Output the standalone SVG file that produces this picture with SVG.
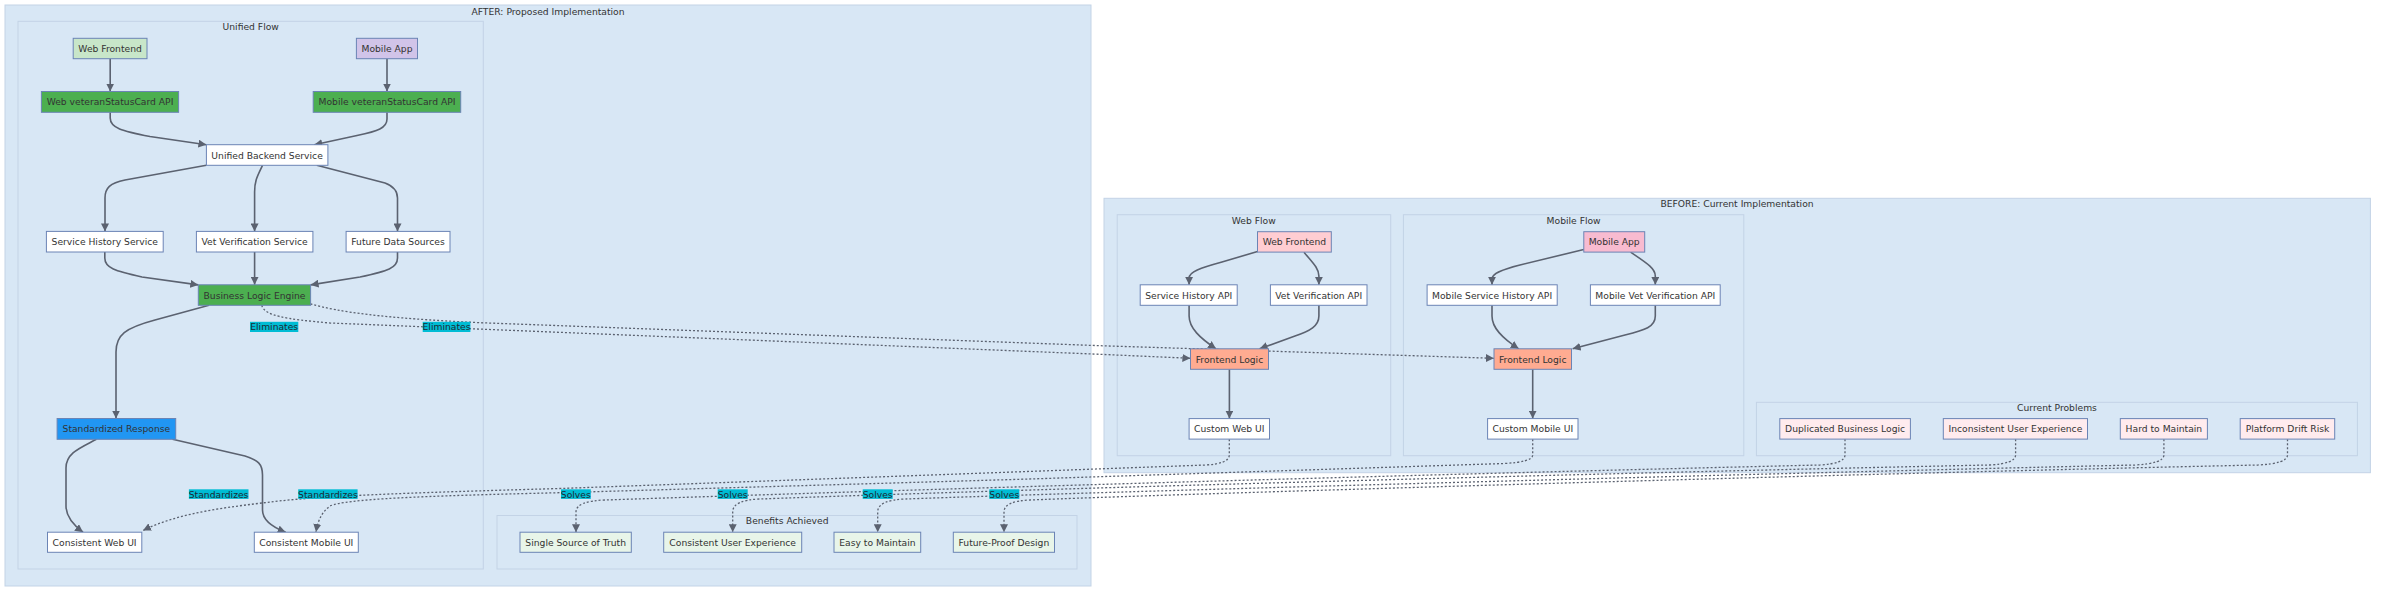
<svg xmlns="http://www.w3.org/2000/svg" width="2384" height="593" viewBox="0 0 2384 593">
<defs>
<style>
.bg{fill:#ffffff}
.cl{fill:#d8e7f5;stroke:#c3d3e6;stroke-width:1}
.t{font-family:"DejaVu Sans",Verdana,sans-serif;font-size:9.2px;fill:#333;text-anchor:middle;dominant-baseline:central}
.n{stroke:#6b84b5;stroke-width:1}
.w{fill:#ffffff}
.gl{fill:#c8e6c9}
.pu{fill:#d1c4e9}
.gr{fill:#4caf50}
.bl{fill:#2196f3}
.be{fill:#e8f5e9}
.rd{fill:#ffcdd2}
.pk{fill:#f8bbd0}
.sa{fill:#ffab91}
.pr{fill:#ffebee}
.e{fill:none;stroke:#5b6270;stroke-width:1.6;marker-end:url(#ah)}
.d{fill:none;stroke:#5b6270;stroke-width:1.3;stroke-dasharray:2 2;marker-end:url(#ah)}
.lb{fill:#00bcd4}
.lt{font-family:"DejaVu Sans",Verdana,sans-serif;font-size:9.2px;fill:#1d2a33;text-anchor:middle;dominant-baseline:central}
</style>
<marker id="ah" viewBox="0 0 10 10" refX="10" refY="5" markerUnits="userSpaceOnUse" markerWidth="8" markerHeight="8" orient="auto">
<path d="M0,0 L10,5 L0,10 z" fill="#5b6270"/>
</marker>
</defs>
<rect class="bg" x="0" y="0" width="2384" height="593"/>

<g id="clusters">
<g id="after"><rect class="cl" x="5" y="5" width="1086" height="581"/><text class="t" x="548" y="11">AFTER: Proposed Implementation</text></g>
<g id="unified-flow"><rect class="cl" x="18" y="21.3" width="465.3" height="547.7"/><text class="t" x="250.7" y="26.8">Unified Flow</text></g>
<g id="benefits"><rect class="cl" x="497" y="515.5" width="580" height="53.5"/><text class="t" x="787.2" y="520.8">Benefits Achieved</text></g>
<g id="before"><rect class="cl" x="1104" y="198.3" width="1266.4" height="274.4"/><text class="t" x="1737" y="203.8">BEFORE: Current Implementation</text></g>
<g id="web-flow"><rect class="cl" x="1117.2" y="214.7" width="273.5" height="241"/><text class="t" x="1253.8" y="220.7">Web Flow</text></g>
<g id="mobile-flow"><rect class="cl" x="1403.4" y="214.7" width="340.4" height="241"/><text class="t" x="1573.6" y="220.7">Mobile Flow</text></g>
<g id="current-problems"><rect class="cl" x="1756.4" y="402.3" width="601" height="53.4"/><text class="t" x="2057" y="407.8">Current Problems</text></g>
</g>

<g id="connectors">
<path class="e" d="M110.2,58.7 L110.2,91.5"/>
<path class="e" d="M387,58.7 L387,91.5"/>
<path class="e" d="M110.2,112.3 L110.2,118 C110.2,128 122,131 150,136.5 L206.4,144.8"/>
<path class="e" d="M387,112.3 L387,119 C387,128 378,131 357,135.5 L314.3,144.8"/>
<path class="e" d="M206.4,165.3 L125,180 C110,183 105,188 105,198 L105,231.4"/>
<path class="e" d="M262.5,165.3 C258,175 254.6,180 254.6,192 L254.6,231.4"/>
<path class="e" d="M316.8,165.3 L385,183 C393,186 397.5,190 397.5,198 L397.5,231.4"/>
<path class="e" d="M104.8,252 L104.8,258 C104.8,268 115,271 142,277 L198.3,284.9"/>
<path class="e" d="M254.6,252 L254.6,284.8"/>
<path class="e" d="M397.5,252 L397.5,258 C397.5,268 388,271 360,277 L310.6,284.9"/>
<path class="e" d="M209,305.3 L155,320 C125,328 116,335 116,352 L116,418.5"/>
<path class="e" d="M96.4,439.3 C80,448 66,453 66,468 L66,506 C66,516 72,524 83,532.2"/>
<path class="e" d="M172.5,439.3 L245,456 C258,460 262.5,464 262.5,475 L262.5,510 C262.5,520 272,527 285.7,532.2"/>

<path class="e" d="M1257.5,251.5 L1222,262 C1200,268 1189.1,272 1189.1,278 L1189.1,284.8"/>
<path class="e" d="M1304,252.2 C1312,262 1318.9,268 1318.9,276 L1318.9,284.8"/>
<path class="e" d="M1189.1,305.3 L1189.1,316 C1189.1,328 1200,338 1216,348.8"/>
<path class="e" d="M1318.9,305.3 L1318.9,316 C1318.9,326 1310,331 1295,336 L1259.6,348.8"/>
<path class="e" d="M1229.4,369.3 L1229.4,418.6"/>
<path class="e" d="M1583.8,249.5 L1520,265 C1500,270 1492,274 1492,279 L1492,284.8"/>
<path class="e" d="M1630.6,252.2 C1645,262 1655.3,268 1655.3,276 L1655.3,284.8"/>
<path class="e" d="M1492,305.3 L1492,316 C1492,328 1502,338 1518.7,348.8"/>
<path class="e" d="M1655.3,305.3 L1655.3,316 C1655.3,327 1645,330 1625,335 L1572.6,348.8"/>
<path class="e" d="M1532.7,369.3 L1532.7,418.6"/>

<path class="d" d="M261.7,305.3 C265,316 285,319 330,323 L1100,354.3 L1190.4,358.3"/>
<path class="d" d="M310.5,304 C340,312 380,318 480,322.7 L1100,345.7 L1493.8,358.3"/>
<path class="d" d="M1229.3,439.3 L1229.3,455 Q1229.3,463.5 1206,465 L560,488.5 C400,493 320,496 270,502 C230,507 180,512 143,530.5"/>
<path class="d" d="M1532.7,439.3 L1532.7,455 Q1532.7,462 1504,463.5 L1020,479.3 L560,492.7 C420,496 345,499 330,506 C322,512 318,520 316,532"/>
<path class="d" d="M1845,439.3 L1845,455 Q1845,463.5 1820,465 C1400,475 900,490 605,500 Q576,501 576,512 L576,532.2"/>
<path class="d" d="M2015.6,439.3 L2015.6,455 Q2015.6,463.5 1990,465 C1600,473 1000,490 760,499 Q732.7,500 732.7,512 L732.7,532.2"/>
<path class="d" d="M2163.9,439.3 L2163.9,455 Q2163.9,463.5 2135,465 C1700,475 1100,492 905,499 Q877.7,500 877.7,512 L877.7,532.2"/>
<path class="d" d="M2287.5,439.3 L2287.5,455 Q2287.5,463.5 2258,465 C1800,475 1150,495 1030,500 Q1004,501 1004,512 L1004,532.2"/>
</g>

<g id="edge-labels">
<g><rect class="lb" x="250" y="321.8" width="48.3" height="10.2"/><text class="lt" x="274.2" y="326.9">Eliminates</text></g>
<g><rect class="lb" x="422.7" y="321.8" width="47.7" height="10.2"/><text class="lt" x="446.5" y="326.9">Eliminates</text></g>
<g><rect class="lb" x="188.9" y="489.3" width="59.6" height="9.6"/><text class="lt" x="218.6" y="494.1">Standardizes</text></g>
<g><rect class="lb" x="298.2" y="489.3" width="59.4" height="9.6"/><text class="lt" x="327.9" y="494.1">Standardizes</text></g>
<g><rect class="lb" x="561" y="489.3" width="29.8" height="9.6"/><text class="lt" x="575.8" y="494.1">Solves</text></g>
<g><rect class="lb" x="717.7" y="489.3" width="30" height="9.6"/><text class="lt" x="732.7" y="494.1">Solves</text></g>
<g><rect class="lb" x="862.7" y="489.3" width="30" height="9.6"/><text class="lt" x="877.7" y="494.1">Solves</text></g>
<g><rect class="lb" x="989.3" y="489.3" width="30" height="9.6"/><text class="lt" x="1004.3" y="494.1">Solves</text></g>
</g>

<g id="after-web-frontend"><rect class="n gl" x="73.2" y="38.3" width="73.8" height="20.4"/><text class="t" x="110.1" y="48.6">Web Frontend</text></g>
<g id="after-mobile-app"><rect class="n pu" x="356.4" y="38.3" width="61.1" height="20.4"/><text class="t" x="387" y="48.6">Mobile App</text></g>
<g id="web-vsc-api"><rect class="n gr" x="41.4" y="91.5" width="137.2" height="20.8"/><text class="t" x="110" y="101.9">Web veteranStatusCard API</text></g>
<g id="mobile-vsc-api"><rect class="n gr" x="313.2" y="91.5" width="147.5" height="20.8"/><text class="t" x="387" y="101.9">Mobile veteranStatusCard API</text></g>
<g id="unified-backend"><rect class="n w" x="206.4" y="144.7" width="121.5" height="20.6"/><text class="t" x="267.1" y="155">Unified Backend Service</text></g>
<g id="service-history-service"><rect class="n w" x="46.4" y="231.4" width="116.8" height="20.6"/><text class="t" x="104.8" y="241.7">Service History Service</text></g>
<g id="vet-verification-service"><rect class="n w" x="196.4" y="231.4" width="116.5" height="20.6"/><text class="t" x="254.6" y="241.7">Vet Verification Service</text></g>
<g id="future-data-sources"><rect class="n w" x="346.1" y="231.4" width="103.9" height="20.6"/><text class="t" x="398" y="241.7">Future Data Sources</text></g>
<g id="business-logic-engine"><rect class="n gr" x="198.3" y="284.8" width="112.3" height="20.5"/><text class="t" x="254.5" y="295">Business Logic Engine</text></g>
<g id="standardized-response"><rect class="n bl" x="57.1" y="418.5" width="118.6" height="20.8"/><text class="t" x="116.4" y="428.9">Standardized Response</text></g>
<g id="consistent-web-ui"><rect class="n w" x="47.5" y="532.2" width="94.3" height="20.1"/><text class="t" x="94.6" y="542.3">Consistent Web UI</text></g>
<g id="consistent-mobile-ui"><rect class="n w" x="254.3" y="532.2" width="104" height="20.1"/><text class="t" x="306.3" y="542.3">Consistent Mobile UI</text></g>
<g id="single-source"><rect class="n be" x="520" y="532.2" width="111.3" height="20.1"/><text class="t" x="575.7" y="542.3">Single Source of Truth</text></g>
<g id="consistent-ux"><rect class="n be" x="663.7" y="532.2" width="138" height="20.1"/><text class="t" x="732.7" y="542.3">Consistent User Experience</text></g>
<g id="easy-maintain"><rect class="n be" x="834" y="532.2" width="86.7" height="20.1"/><text class="t" x="877.4" y="542.3">Easy to Maintain</text></g>
<g id="future-proof"><rect class="n be" x="953.3" y="532.2" width="101.2" height="20.1"/><text class="t" x="1003.9" y="542.3">Future-Proof Design</text></g>

<g id="before-web-frontend"><rect class="n rd" x="1257.5" y="231.7" width="73.8" height="20.4"/><text class="t" x="1294.4" y="241.9">Web Frontend</text></g>
<g id="service-history-api"><rect class="n w" x="1140.2" y="284.8" width="97" height="20.5"/><text class="t" x="1188.7" y="295">Service History API</text></g>
<g id="vet-verification-api"><rect class="n w" x="1270.4" y="284.8" width="96.6" height="20.5"/><text class="t" x="1318.7" y="295">Vet Verification API</text></g>
<g id="frontend-logic-web"><rect class="n sa" x="1190.5" y="348.8" width="78" height="20.5"/><text class="t" x="1229.5" y="359">Frontend Logic</text></g>
<g id="custom-web-ui"><rect class="n w" x="1189.1" y="418.6" width="80.4" height="20.5"/><text class="t" x="1229.3" y="428.8">Custom Web UI</text></g>
<g id="before-mobile-app"><rect class="n pk" x="1583.8" y="231.7" width="60.9" height="20.4"/><text class="t" x="1614.2" y="241.9">Mobile App</text></g>
<g id="mobile-service-history-api"><rect class="n w" x="1427.1" y="284.8" width="130.1" height="20.5"/><text class="t" x="1492.1" y="295">Mobile Service History API</text></g>
<g id="mobile-vet-verification-api"><rect class="n w" x="1590.4" y="284.8" width="129.8" height="20.5"/><text class="t" x="1655.3" y="295">Mobile Vet Verification API</text></g>
<g id="frontend-logic-mobile"><rect class="n sa" x="1494" y="348.8" width="77.5" height="20.5"/><text class="t" x="1532.7" y="359">Frontend Logic</text></g>
<g id="custom-mobile-ui"><rect class="n w" x="1487.6" y="418.6" width="90.4" height="20.5"/><text class="t" x="1532.8" y="428.8">Custom Mobile UI</text></g>
<g id="duplicated-logic"><rect class="n pr" x="1779.8" y="418.6" width="130.6" height="20.5"/><text class="t" x="1845.1" y="428.8">Duplicated Business Logic</text></g>
<g id="inconsistent-ux"><rect class="n pr" x="1943.3" y="418.6" width="144.2" height="20.5"/><text class="t" x="2015.4" y="428.8">Inconsistent User Experience</text></g>
<g id="hard-to-maintain"><rect class="n pr" x="2120.3" y="418.6" width="87.1" height="20.5"/><text class="t" x="2163.9" y="428.8">Hard to Maintain</text></g>
<g id="platform-drift"><rect class="n pr" x="2240.2" y="418.6" width="94.5" height="20.5"/><text class="t" x="2287.5" y="428.8">Platform Drift Risk</text></g>
</svg>
